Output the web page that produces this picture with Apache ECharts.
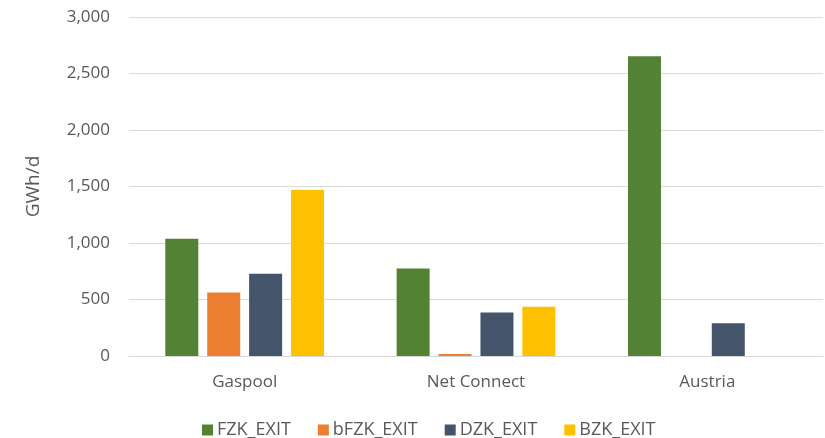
<!DOCTYPE html>
<html><head><meta charset="utf-8">
<script src="https://cdn.jsdelivr.net/npm/echarts@6/dist/echarts.min.js"></script>
<style>html,body{margin:0;padding:0;background:#fff}#c{width:825px;height:438px}</style>
</head><body><div id="c"></div>
<script>
const categories = ['Gaspool', 'Net Connect', 'Austria'];
const seriesNames = ['FZK_EXIT', 'bFZK_EXIT', 'DZK_EXIT', 'BZK_EXIT'];
const fzk = [1037, 775, 2652];
const bfzk = [563, 18, 0];
const dzk = [728, 386, 289];
const bzk = [1468, 436, 0];
const colors = ['#548235', '#ED7D31', '#44546A', '#FFC000'];
const values = [fzk, bfzk, dzk, bzk];

const chart = echarts.init(document.getElementById('c'));
const font = 'Open Sans';
chart.setOption({
  animation: false,
  grid: {left: 129, right: 2, top: 17, bottom: 82, containLabel: false},
  legend: {
    bottom: -1, left: 202, padding: 0, itemWidth: 11, itemHeight: 11, itemGap: 27,
    icon: 'rect',
    textStyle: {color: '#595959', fontSize: 18, fontFamily: font, padding: [0, 0, 0, -1]},
    data: seriesNames
  },
  xAxis: {
    type: 'category', data: categories,
    axisLine: {show: true, lineStyle: {color: '#d9d9d9'}},
    axisTick: {show: false},
    axisLabel: {color: '#595959', fontSize: 17, fontFamily: font, margin: 18}
  },
  yAxis: {
    type: 'value', min: 0, max: 3000, interval: 500,
    name: 'GWh/d', nameLocation: 'middle', nameGap: 86, nameRotate: 90,
    nameTextStyle: {color: '#595959', fontSize: 19, fontFamily: font},
    axisLine: {show: false}, axisTick: {show: false},
    splitLine: {lineStyle: {color: '#d9d9d9', width: 1}},
    axisLabel: {color: '#595959', fontSize: 17, fontFamily: font, margin: 19,
      formatter: v => v.toLocaleString('en-US')}
  },
  series: seriesNames.map((n, i) => ({
    name: n, type: 'bar', data: values[i], barWidth: 33, barGap: '27%',
    itemStyle: {color: colors[i]}
  }))
});
</script></body></html>
